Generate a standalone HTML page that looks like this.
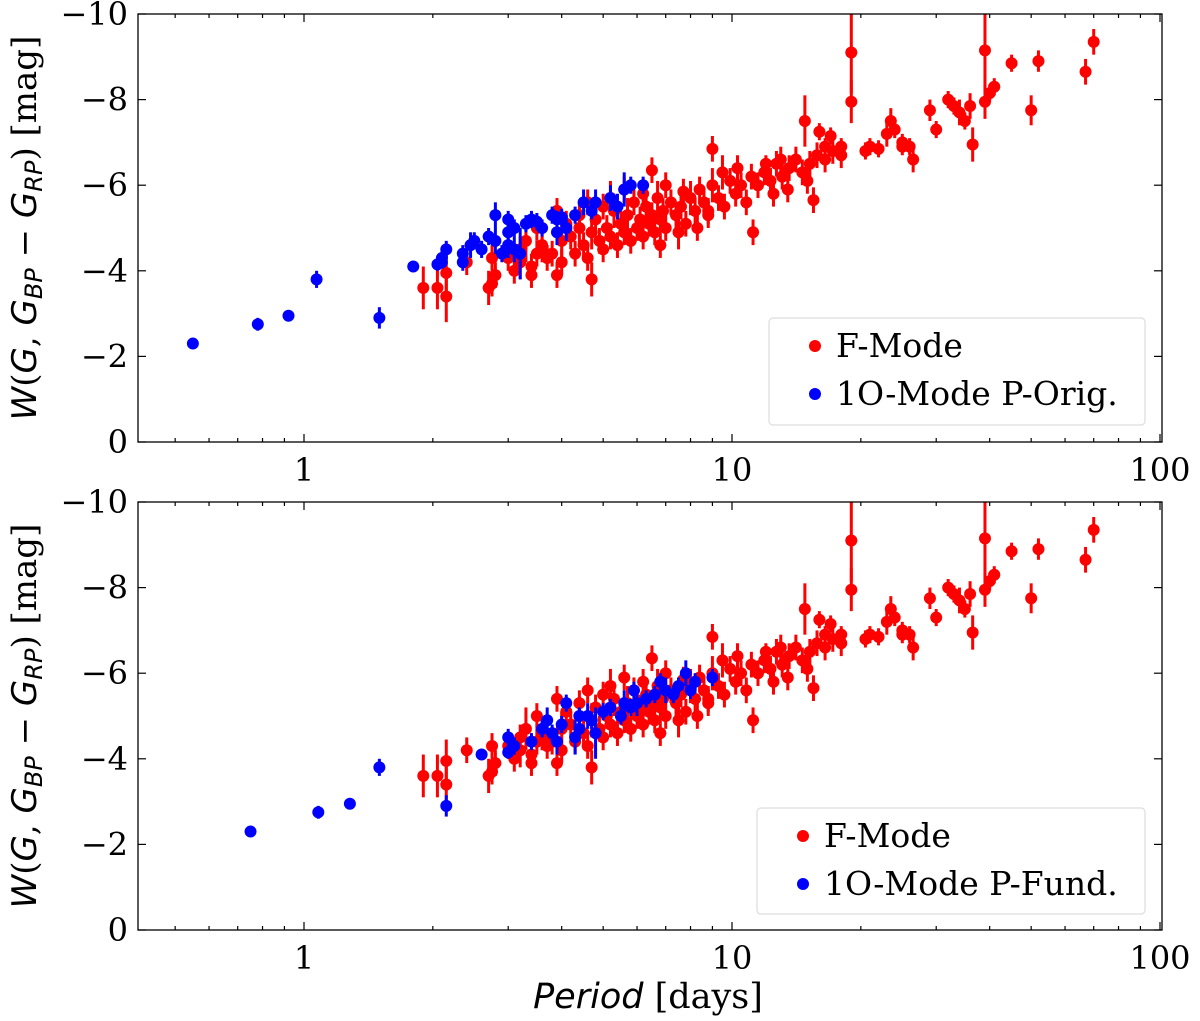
<!DOCTYPE html>
<html><head><meta charset="utf-8"><style>
body{margin:0;background:#fff;}
svg{display:block;font-family:"DejaVu Serif","Liberation Serif",serif;}
</style></head><body>
<svg id="chart" width="1200" height="1021" viewBox="0 0 1200 1021" xmlns="http://www.w3.org/2000/svg"></svg>
<script>
const redPeriod=[19,39,70,67,52,45,50,41,40,39,32,33,34,35,36,36.5,29,30,19,14.8,20.5,21,22,23,23.5,24,25,26,26.5,25,16,17,18,16.5,15,15.5,13,12,11.2,9,8.8,7.7,6.5,4.7,
1.9,2.05,2.15,2.15,2.4,2.7,2.75,2.8,2.75,3.4,3.5,3.2,3.9,3.3,3.6,
3.0,3.2,3.4,3.6,3.8,4.0,4.0,4.2,4.3,4.4,4.5,4.6,4.7,4.8,4.9,5.0,5.1,5.2,5.3,5.4,5.5,5.6,5.7,5.8,5.9,6.0,6.1,6.2,6.3,6.4,6.5,6.6,6.7,6.8,6.9,7.0,7.2,7.4,7.6,7.8,8.0,8.2,8.4,8.6,8.8,9.0,9.3,9.6,9.9,10.2,10.5,10.8,11.1,11.5,11.9,12.3,12.7,13.1,13.6,14.1,14.6,15.2,15.8,16.5,17.2,18,3.1,3.7,4.1,5.2,5.6,5.0,4.4,6.2,7.0,7.5,6.8,8.3,9.5,10.3,12.5,13.5,3.5,3.9,4.6];
const redMag=[-9.1,-9.15,-9.35,-8.65,-8.9,-8.85,-7.75,-8.3,-8.15,-7.95,-8.0,-7.85,-7.7,-7.5,-7.85,-6.95,-7.75,-7.3,-7.95,-7.5,-6.8,-6.9,-6.85,-7.2,-7.5,-7.3,-7.0,-6.9,-6.6,-6.9,-7.25,-7.15,-6.9,-6.9,-6.1,-5.65,-6.6,-6.5,-4.9,-6.85,-5.4,-5.85,-6.35,-3.8,
-3.6,-3.6,-3.4,-3.95,-4.2,-3.6,-3.7,-3.9,-4.3,-3.9,-4.4,-4.2,-3.9,-4.7,-4.5,
-4.3,-4.5,-4.1,-4.6,-4.4,-4.7,-4.2,-4.8,-4.4,-5.0,-4.6,-4.3,-4.9,-5.2,-4.7,-4.5,-5.0,-4.8,-5.4,-4.6,-5.1,-4.9,-5.3,-4.7,-5.6,-5.0,-5.2,-4.8,-5.5,-5.1,-5.3,-4.9,-5.7,-5.2,-5.4,-5.0,-5.6,-5.3,-5.5,-5.1,-5.7,-5.4,-5.9,-5.6,-5.3,-6.0,-5.7,-5.5,-6.1,-5.8,-6.0,-5.6,-6.2,-6.0,-6.3,-6.1,-6.5,-6.2,-6.4,-6.6,-6.3,-6.5,-6.7,-6.6,-6.8,-6.7,-4.0,-4.3,-5.1,-5.7,-5.9,-5.5,-5.3,-5.8,-6.0,-4.9,-4.6,-5.0,-6.3,-6.4,-5.8,-5.9,-5.0,-5.4,-5.6];
const redErr=[0.95,0.95,0.3,0.3,0.25,0.2,0.35,0.2,0.2,0.4,0.2,0.2,0.3,0.2,0.3,0.4,0.25,0.2,0.5,0.6,0.2,0.2,0.2,0.3,0.3,0.2,0.2,0.2,0.3,0.2,0.2,0.2,0.2,0.2,0.3,0.3,0.3,0.2,0.3,0.3,0.3,0.3,0.3,0.4,
0.5,0.5,0.6,0.5,0.3,0.4,0.3,0.3,0.3,0.3,0.3,0.4,0.3,0.5,0.3,
0.3,0.3,0.3,0.3,0.3,0.4,0.3,0.3,0.3,0.4,0.3,0.3,0.4,0.3,0.3,0.3,0.3,0.3,0.4,0.3,0.3,0.3,0.4,0.3,0.3,0.3,0.3,0.3,0.4,0.3,0.3,0.3,0.4,0.3,0.3,0.3,0.3,0.3,0.3,0.3,0.4,0.3,0.3,0.3,0.3,0.4,0.3,0.3,0.3,0.3,0.3,0.3,0.3,0.3,0.3,0.3,0.3,0.3,0.3,0.3,0.3,0.3,0.3,0.3,0.3,0.3,0.3,0.3,0.3,0.4,0.3,0.3,0.3,0.3,0.3,0.4,0.3,0.3,0.4,0.3,0.3,0.3,0.3,0.3,0.3];
const blueTopPeriod=[0.55,0.78,0.92,1.07,1.5,1.8,2.05,2.1,2.15,2.1,2.35,2.45,2.5,2.6,2.7,2.8,2.8,2.9,3.0,3.0,3.1,3.2,3.3,3.4,3.5,3.1,3.6,3.0,3.8,3.9,4.0,4.3,4.5,4.7,4.8,5.2,5.6,5.8,5.4,6.2,3.9,4.1,2.35];
const blueTopMag=[-2.3,-2.75,-2.95,-3.8,-2.9,-4.1,-4.15,-4.3,-4.5,-4.2,-4.4,-4.6,-4.7,-4.5,-4.8,-4.7,-5.3,-4.4,-4.6,-4.9,-5.0,-4.4,-5.1,-5.2,-5.15,-4.5,-5.0,-5.2,-5.3,-5.2,-5.25,-5.3,-5.6,-5.4,-5.6,-5.7,-5.9,-6.0,-5.5,-6.0,-4.9,-5.0,-4.2];
const blueTopErr=[0.08,0.15,0.1,0.2,0.25,0.1,0.15,0.15,0.2,0.15,0.2,0.3,0.2,0.2,0.2,0.3,0.3,0.2,0.3,0.3,0.2,0.6,0.2,0.2,0.2,0.3,0.2,0.2,0.2,0.2,0.2,0.2,0.3,0.2,0.3,0.3,0.4,0.2,0.3,0.2,0.3,0.3,0.2];
const blueBotPeriod=[0.75,1.08,1.28,1.5,2.15,2.6,3.0,3.0,3.1,3.4,3.6,3.8,4.0,4.1,4.3,4.4,4.6,4.8,5.0,5.2,5.5,5.8,6.0,6.3,6.6,7.0,7.5,7.8,8.2,9.0,5.6,4.4,6.8,7.3,4.7,3.7,5.9,8.0,3.9];
const blueBotMag=[-2.3,-2.75,-2.95,-3.8,-2.9,-4.1,-4.15,-4.5,-4.3,-4.4,-4.7,-4.6,-4.8,-5.3,-4.5,-4.7,-5.0,-4.6,-5.1,-5.2,-5.0,-5.2,-5.3,-5.4,-5.5,-5.6,-5.7,-6.0,-5.8,-5.9,-5.3,-5.0,-5.8,-5.5,-4.9,-4.9,-5.6,-5.6,-4.4];
const blueBotErr=[0.08,0.15,0.1,0.2,0.25,0.1,0.15,0.2,0.2,0.2,0.2,0.2,0.2,0.2,0.4,0.2,0.3,0.6,0.2,0.2,0.2,0.2,0.3,0.2,0.2,0.3,0.2,0.3,0.2,0.2,0.3,0.2,0.2,0.2,0.2,0.3,0.2,0.2,0.3];
const yTicks=[-10,-8,-6,-4,-2,0];
const yTickLabels=["\u221210","\u22128","\u22126","\u22124","\u22122","0"];
const xTicks=[1,10,100];
const xTickLabels=["1","10","100"];

const NS="http://www.w3.org/2000/svg";
const svg=document.getElementById('chart');
function mk(tag,attrs,parent){const e=document.createElementNS(NS,tag);for(const k in attrs)e.setAttribute(k,attrs[k]);(parent||svg).appendChild(e);return e;}
const L=138,R=1162;
function xs(p){return 304+428*Math.log10(p);}

function panel(top,bot,bP,bM,bE,legendLabel,legBox,name){
  const g=mk('g',{});
  
  
  const ys=v=>top+(bot-top)*(v-(-10))/10;
  const cp='clip-'+name;
  const defs=mk('defs',{},g);const c=mk('clipPath',{id:cp},defs);mk('rect',{x:L,y:top,width:R-L,height:bot-top},c);
  const pts=mk('g',{'clip-path':'url(#'+cp+')'},g);
  function series(P,M,E,col,sname){
    const sg=mk('g',{},pts);
    
    
    for(let i=0;i<P.length;i++){
      const x=xs(P[i]),y=ys(M[i]);
      const ln=mk('line',{x1:x,x2:x,y1:ys(M[i]-E[i]),y2:ys(M[i]+E[i]),stroke:col,'stroke-width':3},sg);
      
      
      const ci=mk('circle',{cx:x,cy:y,r:6,fill:col},sg);
      
      
    }
  }
  series(redPeriod,redMag,redErr,'#ff0000','f-mode-series');
  series(bP,bM,bE,'#0000ff','1o-mode-series');
  for(let d=-1;d<=2;d++)for(let m=1;m<10;m++){
    const v=Math.pow(10,d)*m;const x=xs(v);if(x<L||x>R)continue;
    const len=m===1?8:4;
    mk('line',{x1:x,x2:x,y1:bot,y2:bot-len,stroke:'#000','stroke-width':1.2},g);
    mk('line',{x1:x,x2:x,y1:top,y2:top+len,stroke:'#000','stroke-width':1.2},g);
  }
  xTicks.forEach((v,i)=>{const t=mk('text',{x:xs(v),y:bot+39,'text-anchor':'middle','font-size':32},g);t.textContent=xTickLabels[i];
    });
  yTicks.forEach((v,i)=>{const y=ys(v);
    mk('line',{x1:L,x2:L+8,y1:y,y2:y,stroke:'#000','stroke-width':1.2},g);
    mk('line',{x1:R,x2:R-8,y1:y,y2:y,stroke:'#000','stroke-width':1.2},g);
    const t=mk('text',{x:L-10,y:y+11,'text-anchor':'end','font-size':32},g);t.textContent=yTickLabels[i];
    });
  const fr=mk('rect',{x:L,y:top,width:R-L,height:bot-top,fill:'none',stroke:'#000','stroke-width':1.3},g);
  
  const cy=(top+bot)/2;
  const yl=mk('text',{x:0,y:0,transform:`translate(36,${cy}) rotate(-90)`,'text-anchor':'middle','font-size':34},g);
  
  yl.innerHTML='<tspan font-family="DejaVu Sans" font-style="italic">W</tspan>(<tspan font-family="DejaVu Sans" font-style="italic">G</tspan>, <tspan font-family="DejaVu Sans" font-style="italic">G</tspan><tspan font-family="DejaVu Sans" font-style="italic" font-size="24" dy="6">BP</tspan><tspan dy="-6"> \u2212 </tspan><tspan font-family="DejaVu Sans" font-style="italic">G</tspan><tspan font-family="DejaVu Sans" font-style="italic" font-size="24" dy="6">RP</tspan><tspan dy="-6">) [mag]</tspan>';
  const lg=mk('g',{},g);
  mk('rect',{x:legBox[0],y:legBox[1],width:legBox[2],height:legBox[3],rx:4,fill:'#fff',stroke:'#ddd','stroke-width':1.2},lg);
  [['#ff0000','F-Mode',26],['#0000ff',legendLabel,74]].forEach(([col,lab,dy])=>{
    const e=mk('g',{},lg);
    mk('circle',{cx:legBox[0]+46,cy:legBox[1]+dy+2,r:6,fill:col},e);
    const t=mk('text',{x:legBox[0]+67,y:legBox[1]+dy+13,'font-size':33},e);t.textContent=lab;
  });
}
panel(14,442,blueTopPeriod,blueTopMag,blueTopErr,'1O-Mode P-Orig.',[769,318,376,107],'top-panel');
panel(502,930,blueBotPeriod,blueBotMag,blueBotErr,'1O-Mode P-Fund.',[757,808,388,106],'bottom-panel');
const xl=mk('text',{x:648,y:1008,'text-anchor':'middle','font-size':35});


xl.innerHTML='<tspan font-family="DejaVu Sans" font-style="italic">Period</tspan> [days]';
</script>
</body></html>
